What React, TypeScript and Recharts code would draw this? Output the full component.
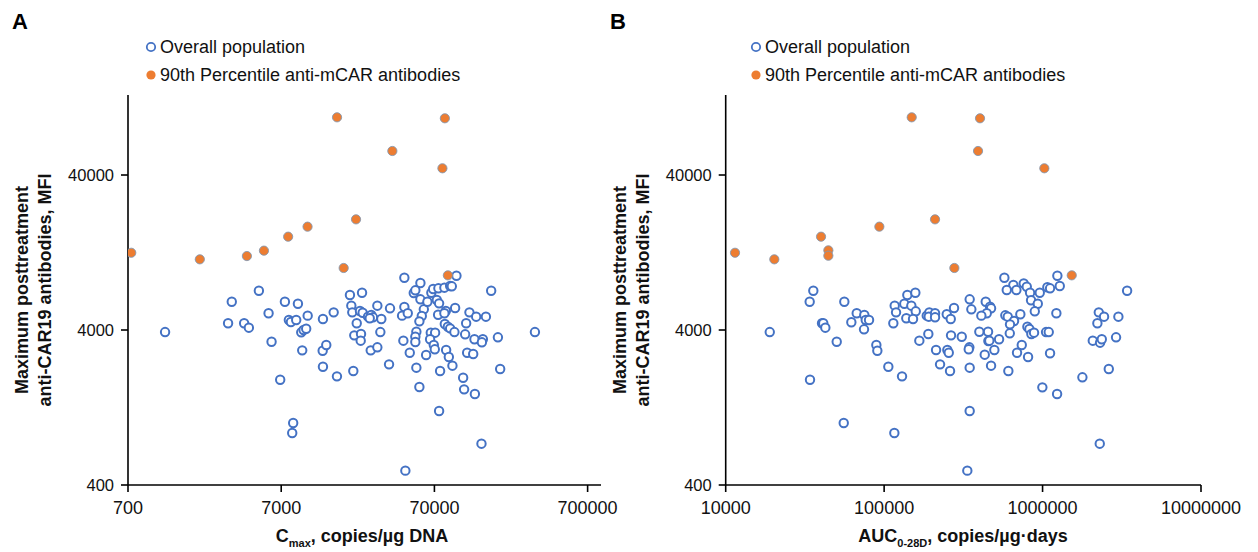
import { ScatterChart, Scatter, XAxis, YAxis } from "recharts";

// panel A: Cmax vs max MFI
const cmaxAll = [
  1222, 3330, 3150, 4010, 4305, 5005, 5790, 6055, 6895, 7400, 7855, 8100, 8770, 9000, 9460, 9800,
  10190, 10420, 9600, 8380, 8260, 13110, 13055, 13780, 13110, 15400, 16180, 19670, 23590, 20080,
  20370, 22870, 23810, 21780, 20990, 23230, 23120, 20690, 26880, 29690, 25810, 27110, 27800, 26480,
  29690, 31520, 35920, 31060, 35400, 44560, 56720, 51330, 52560, 44560, 43060, 46900, 43900, 48330,
  53370, 52560, 52560, 53370, 55850, 56720, 59700, 63000, 57900, 55850, 66860, 68670, 74330, 81340,
  88680, 72600, 75110, 83090, 74000, 95570, 66300, 70750, 65600, 69360, 70420, 61800, 81850, 85670,
  88680, 94570, 83480, 86940, 91780, 76240, 75110, 97480, 118500, 131100, 151800, 112800, 111100,
  127800, 145000, 142900, 114500, 125400, 181800, 164300, 188100, 107800, 109400, 128600, 142000,
  45240, 317100, 90930, 81340,
];
const mfiAllA = [
  3880, 6090, 4420, 4420, 4140, 7170, 5130, 3360, 1910, 6090, 4640, 4505, 4640, 5910, 3865, 4000,
  4075, 4950, 2957, 1005, 866, 4710, 2940, 3200, 2318, 5200, 2010, 6730, 6960, 5740,
  5200, 5306, 5170, 4420, 3695, 3770, 3413, 2176, 2957, 3093, 4875, 5000, 4830, 4760,
  5740, 4710, 5520, 3880, 2402, 8700, 8040, 6930, 7213, 5626, 4950, 5130, 3413, 2855,
  3900, 3620, 3347, 2285, 1715, 6310, 5440, 6090, 4925, 4550, 6960, 7355, 7430, 7500,
  7690, 6250, 5945, 5306, 5020, 5548, 3844, 3844, 3484, 3200, 3003, 2760, 4373, 4200,
  4100, 3880, 2971, 2678, 2354, 2176, 1200, 8960, 5200, 4875, 4875, 4420, 3752,
  3484, 3484, 3332, 2855, 2800, 3588, 7170, 2240, 1969, 1657, 1546, 739,
  495, 3880, 7656, 5130,
];
const cmaxTop = [735, 2060, 4180, 5400, 7770, 10400, 16200, 17900, 21550, 37200, 81900, 78960, 85700];
const mfiTopA = [12600, 11430, 12000, 13000, 16000, 18570, 94250, 10050, 20700, 57150, 92900, 44200, 9010];

// panel B: AUC0-28D vs max MFI
const aucAll = [
  18970, 35730, 33890, 40550, 41300, 42550, 34050, 50200, 56070, 55590, 62090, 67140, 74990, 76540,
  80300, 74650, 89300, 90600, 106300, 114300, 116600, 118900, 116000, 129700, 134100, 140100, 148500,
  157400, 158300, 138000, 152200, 166800, 190100, 185800, 192900, 191200, 209600, 209600, 212700,
  225400, 276200, 248400, 263300, 264400, 309000, 250600, 255800, 260600, 346700, 355200, 345100,
  342000, 346700, 346700, 335000, 437800, 466400, 473100, 444400, 410800, 399000, 452900, 455000,
  531500, 496300, 431500, 473100, 608200, 574000, 654000, 594300, 683500, 760500, 795000, 834000,
  960000, 846000, 933000, 893000, 724000, 582000, 603000, 660700, 623000, 621000, 802000, 825500,
  849800, 883600, 739000, 690000, 810000, 1115000, 1052000, 1094000, 1222000, 1072000, 1115000,
  1284000, 1240000, 997000, 1235000, 1784000, 2618000, 2296000, 2264000, 2444000, 3010000, 2218000,
  2075000, 2307000, 2365000, 2910000, 3417000, 461300,
];
const mfiAllB = [
  3880, 7170, 6090, 4420, 4420, 4140, 1910, 3360, 6090, 1005, 4485, 5130, 5000, 4640,
  4640, 4041, 3200, 2940, 2318, 4420, 5740, 5200, 866, 2010, 5910, 6730, 5740,
  6960, 5281, 4760, 4710, 3413, 3770, 4950, 5200, 4875, 5130, 4830, 2971,
  2402, 5548, 5053, 4710, 3695, 3620, 2971, 2855, 2176, 6310, 5440, 3093,
  3003, 2285, 1200, 495, 6090, 5658, 5520, 5130, 4950, 3900, 3900, 3397,
  3484, 2971, 2772, 2354, 2176, 8700, 7800, 7245, 7245, 8000, 7610, 6960,
  6960, 6220, 5910, 5281, 5053, 4975, 4875, 4572, 4352, 3808, 4200, 4060,
  3770, 3844, 3200, 2855, 2678, 2830, 3880, 3880, 5130, 7545, 7430,
  7690, 8960, 1707, 1546, 1981, 2240, 739, 5200, 4875, 4875, 4420,
  3413, 3313, 3484, 3588, 7170, 3413,
];
const aucTop = [11450, 20270, 39970, 44460, 44460, 93300, 149300, 209500, 277500, 402900, 391500, 1026000, 1528000];
const mfiTopB = [12600, 11430, 16000, 13060, 12060, 18570, 94250, 20700, 10050, 92900, 57150, 44200, 9010];

const mfiTicks = [400, 4000, 40000];
const cmaxTicks = [700, 7000, 70000, 700000];
const aucTicks = [10000, 100000, 1000000, 10000000];

const BLUE = "#4472C4";
const ORANGE = "#ED7D31";
const FONT = "'Liberation Sans', Arial, sans-serif";

const pairs = (xs: number[], ys: number[]) => xs.map((x, i) => ({ x, y: ys[i] }));

const openDot = (p: any) => (
  <circle cx={p.cx} cy={p.cy} r={4.2} fill="#fff" stroke={BLUE} strokeWidth={2} />
);
const fullDot = (p: any) => (
  <circle cx={p.cx} cy={p.cy} r={4.6} fill={ORANGE} stroke="#8497B0" strokeWidth={0.9} />
);

const xTickStyle = { fontSize: 18, fill: "#111", fontFamily: FONT };
const yTickStyle = { fontSize: 16.5, fill: "#111", fontFamily: FONT };
const axisLine = { stroke: "#000", strokeWidth: 1.6 };

function Panel(props: {
  left: number;
  marginLeft: number;
  marginRight: number;
  xDomain: [number, number];
  xTicks: number[];
  all: { x: number; y: number }[];
  top: { x: number; y: number }[];
}) {
  return (
    <div style={{ position: "absolute", left: props.left, top: 0 }}>
      <ScatterChart
        width={629}
        height={552}
        margin={{ top: 95, right: props.marginRight, bottom: 37, left: props.marginLeft }}
      >
        <XAxis
          type="number"
          dataKey="x"
          scale="log"
          domain={props.xDomain}
          ticks={props.xTicks}
          allowDataOverflow
          height={30}
          tick={xTickStyle}
          tickSize={7}
          tickMargin={9}
          axisLine={axisLine}
          tickLine={axisLine}
          interval={0}
        />
        <YAxis
          type="number"
          dataKey="y"
          scale="log"
          domain={[400, 131300]}
          ticks={mfiTicks}
          allowDataOverflow
          width={60}
          tick={yTickStyle}
          tickSize={7}
          tickMargin={7}
          axisLine={axisLine}
          tickLine={axisLine}
          interval={0}
        />
        <Scatter data={props.all} shape={openDot} isAnimationActive={false} />
        <Scatter data={props.top} shape={fullDot} isAnimationActive={false} />
      </ScatterChart>
    </div>
  );
}

function LegendBox({ left }: { left: number }) {
  const row = { display: "flex", alignItems: "center", height: 28, whiteSpace: "nowrap" as const };
  return (
    <div style={{ position: "absolute", left, top: 33, fontFamily: FONT, fontSize: 18, color: "#111" }}>
      <div style={row}>
        <svg width={12} height={12} style={{ marginRight: 3 }}>
          <circle cx={6} cy={6} r={4.2} fill="#fff" stroke={BLUE} strokeWidth={1.8} />
        </svg>
        Overall population
      </div>
      <div style={row}>
        <svg width={12} height={12} style={{ marginRight: 3 }}>
          <circle cx={6} cy={6} r={4.6} fill={ORANGE} />
        </svg>
        90th Percentile anti-mCAR antibodies
      </div>
    </div>
  );
}

function YTitle({ left }: { left: number }) {
  return (
    <div
      style={{
        position: "absolute",
        left: left - 200,
        top: 290 - 25,
        width: 400,
        height: 50,
        transform: "rotate(-90deg)",
        textAlign: "center",
        fontFamily: FONT,
        fontWeight: "bold",
        fontSize: 18,
        lineHeight: "23px",
        color: "#111",
      }}
    >
      Maximum posttreatment
      <br />
      anti-CAR19 antibodies, MFI
    </div>
  );
}

function XTitle({ center, main, sub, rest }: { center: number; main: string; sub: string; rest: string }) {
  return (
    <div
      style={{
        position: "absolute",
        left: center - 200,
        top: 526,
        width: 400,
        textAlign: "center",
        fontFamily: FONT,
        fontWeight: "bold",
        fontSize: 18,
        color: "#111",
      }}
    >
      {main}
      <sub style={{ fontSize: 11 }}>{sub}</sub>
      {rest}
    </div>
  );
}

export default function App() {
  return (
    <div style={{ position: "absolute", left: 0, top: 0, width: 1258, height: 552, background: "#fff" }}>
      <Panel
        left={0}
        marginLeft={68}
        marginRight={28}
        xDomain={[700, 856000]}
        xTicks={cmaxTicks}
        all={pairs(cmaxAll, mfiAllA)}
        top={pairs(cmaxTop, mfiTopA)}
      />
      <Panel
        left={629}
        marginLeft={36.7}
        marginRight={57}
        xDomain={[10000, 10000000]}
        xTicks={aucTicks}
        all={pairs(aucAll, mfiAllB)}
        top={pairs(aucTop, mfiTopB)}
      />
      <div style={{ position: "absolute", left: 12, top: 9, fontFamily: FONT, fontWeight: "bold", fontSize: 22 }}>A</div>
      <div style={{ position: "absolute", left: 610, top: 9, fontFamily: FONT, fontWeight: "bold", fontSize: 22 }}>B</div>
      <LegendBox left={145} />
      <LegendBox left={750} />
      <YTitle left={36} />
      <YTitle left={634} />
      <XTitle center={362} main="C" sub="max" rest=", copies/µg DNA" />
      <XTitle center={963} main="AUC" sub="0-28D" rest=", copies/µg·days" />
    </div>
  );
}
